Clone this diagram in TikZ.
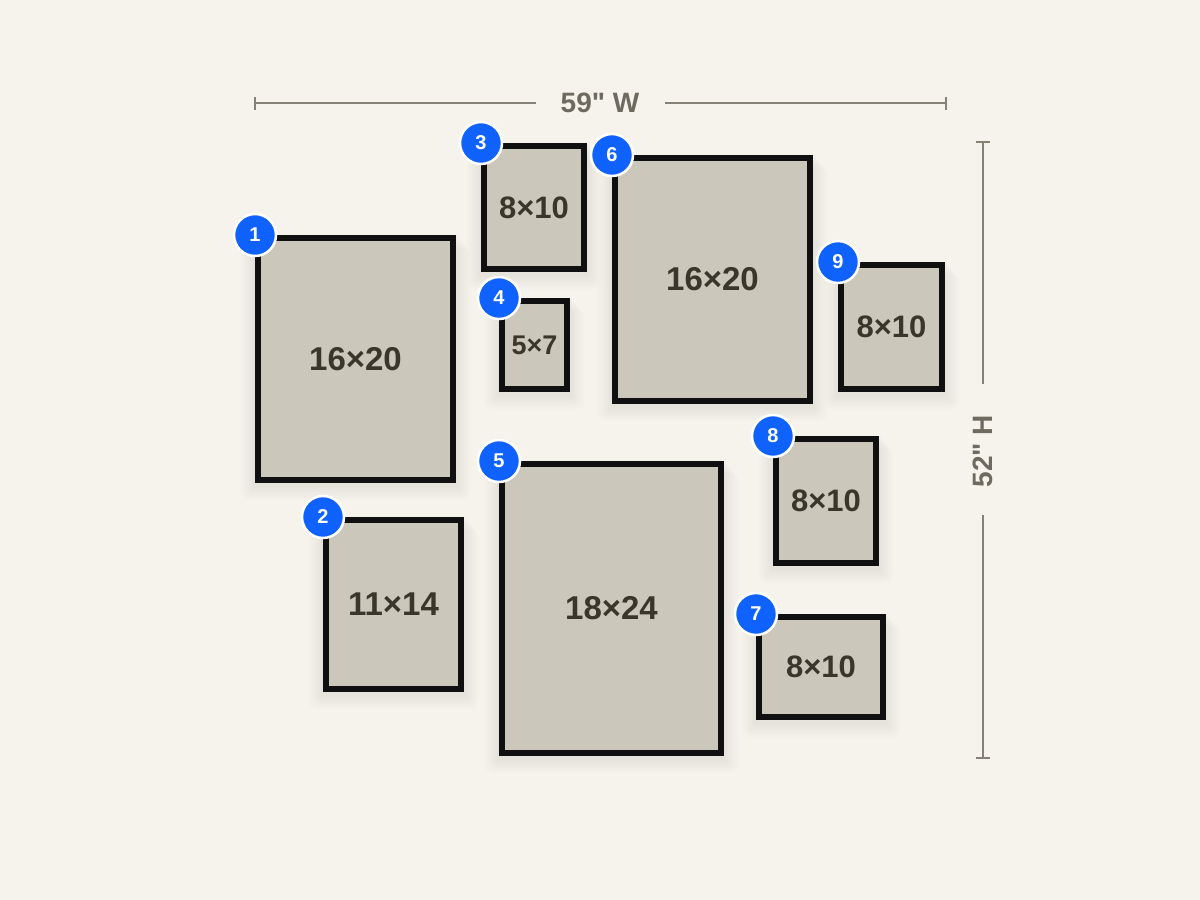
\documentclass[tikz,border=0pt]{standalone}
\usepackage{fontspec}
\setmainfont{Liberation Sans}[Ligatures=TeXOff]
\usetikzlibrary{backgrounds}
\definecolor{bg}{HTML}{F6F3EC}
\definecolor{mat}{HTML}{CBC7BB}
\definecolor{framec}{HTML}{111010}
\definecolor{lab}{HTML}{3A362B}
\definecolor{dimc}{HTML}{6E6A5F}
\definecolor{dimline}{HTML}{858176}
\definecolor{badgec}{HTML}{0F62FE}
\tikzset{
  frm/.style={draw=framec, fill=mat, line width=6pt, inner sep=0pt, text=lab, font=\bfseries\fontsize{33}{38}\selectfont},
  mid/.style={font=\bfseries\fontsize{31}{36}\selectfont},
  sml/.style={font=\bfseries\fontsize{27}{32}\selectfont},
  badge/.style={circle, fill=badgec, draw=white, line width=2.5pt, minimum size=42pt, inner sep=0pt, text=white, font=\bfseries\fontsize{20}{22}\selectfont},
  dimtext/.style={text=dimc, font=\bfseries\fontsize{28}{32}\selectfont, inner sep=0pt},
  dimln/.style={draw=dimline, line width=1.6pt},
}
\newcommand\shadowof[1]{%
  \foreach \i in {1,...,8}{
    \fill[black, opacity=0.008, rounded corners=\i pt]
      ([shift={(-\i*1.8,\i*1.8-2)}]#1.north west) rectangle ([shift={(\i*1.8,\i*1.8+3)}]#1.south east);
  }}
\begin{document}
\begin{tikzpicture}[x=1pt,y=-1pt]
\useasboundingbox (0,0) rectangle (1200,900);

% frames
\node[frm, minimum width=195pt, minimum height=242pt] (f1) at (355.5,359) {16×20};
\node[frm, minimum width=135pt, minimum height=169pt] (f2) at (393.5,604.5) {11×14};
\node[frm, mid, minimum width=100pt, minimum height=123pt] (f3) at (534,207.5) {8×10};
\node[frm, sml, minimum width=65pt, minimum height=88pt] (f4) at (534.5,345) {5×7};
\node[frm, minimum width=219pt, minimum height=289pt] (f5) at (611.5,608.5) {18×24};
\node[frm, minimum width=195pt, minimum height=243pt] (f6) at (712.5,279.5) {16×20};
\node[frm, mid, minimum width=124pt, minimum height=100pt] (f7) at (821,667) {8×10};
\node[frm, mid, minimum width=100pt, minimum height=124pt] (f8) at (826,501) {8×10};
\node[frm, mid, minimum width=101pt, minimum height=124pt] (f9) at (891.5,327) {8×10};

% badges
\foreach \k in {1,...,9}{
  \node[badge] (b\k) at (f\k.north west) {\k};
}

% width dimension
\coordinate (wl) at (255,103);
\coordinate (wr) at (946,103);
\node[dimtext] (wlab) at (600,103) {59" W};
\draw[dimln] (wl) -- (536,103);
\draw[dimln] (665,103) -- (wr);
\draw[dimln] ([yshift=-6.5pt]wl) -- ([yshift=6.5pt]wl);
\draw[dimln] ([yshift=-6.5pt]wr) -- ([yshift=6.5pt]wr);

% height dimension
\coordinate (ht) at (983,142);
\coordinate (hb) at (983,758);
\node[dimtext, rotate=90] (hlab) at (983,451) {52" H};
\draw[dimln] (ht) -- (983,384);
\draw[dimln] (983,515) -- (hb);
\draw[dimln] ([xshift=-7pt]ht) -- ([xshift=7pt]ht);
\draw[dimln] ([xshift=-7pt]hb) -- ([xshift=7pt]hb);

\begin{pgfonlayer}{background}
  \fill[bg] (0,0) rectangle (1200,900);
  \foreach \k in {1,...,9}{\shadowof{f\k}}
\end{pgfonlayer}
\end{tikzpicture}
\end{document}
